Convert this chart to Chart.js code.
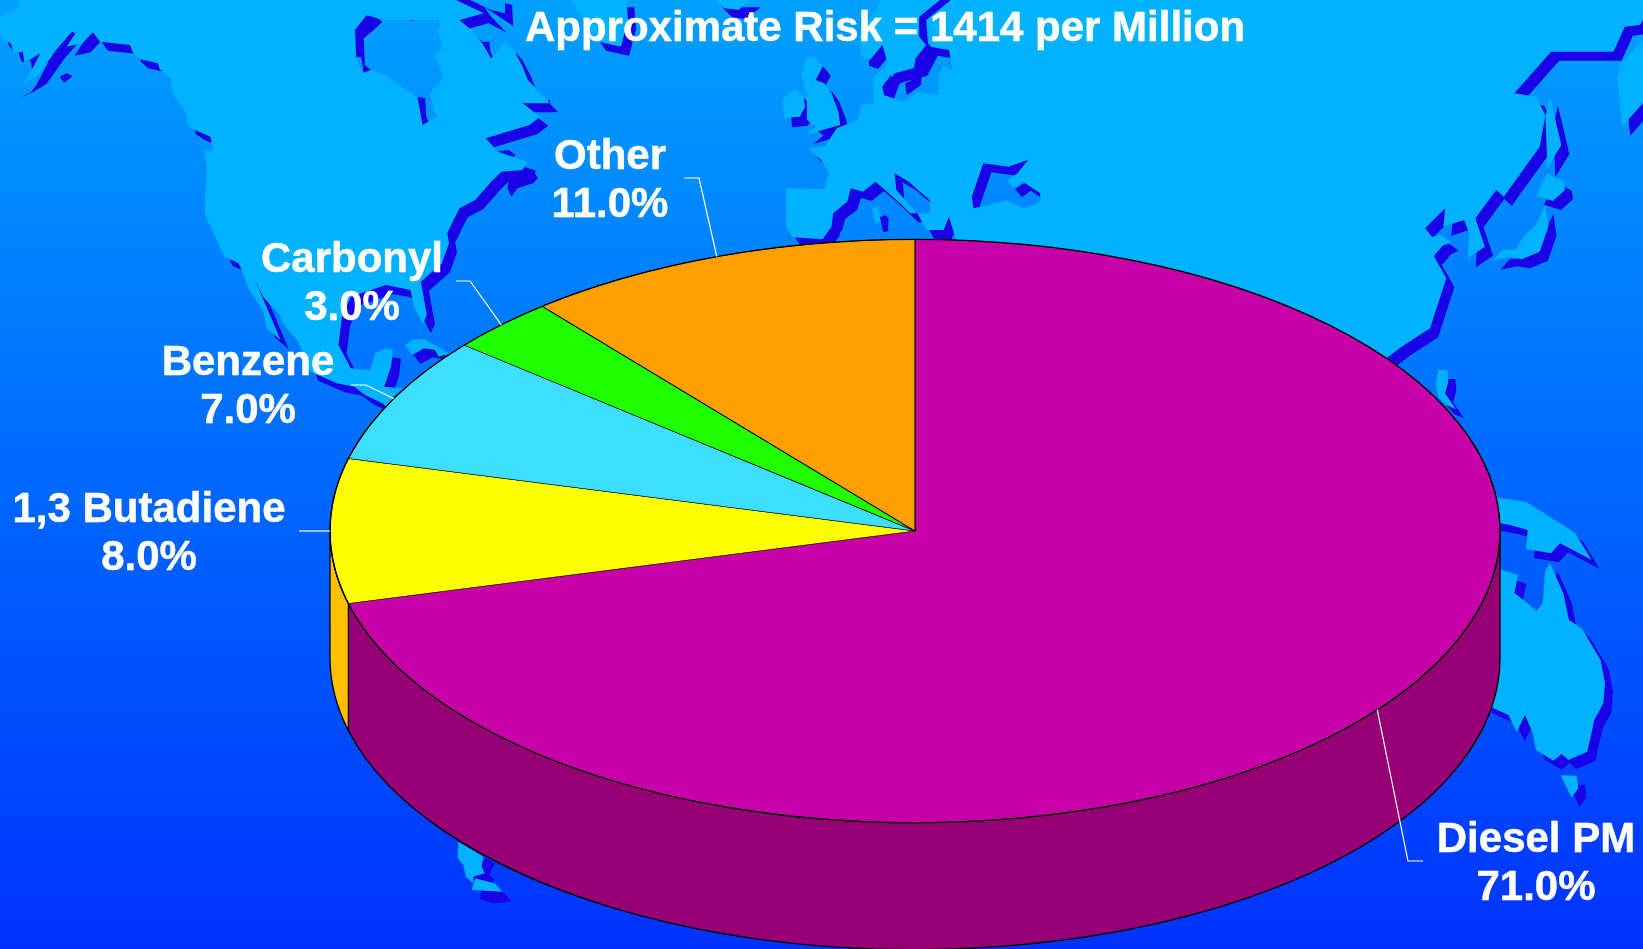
<!DOCTYPE html>
<html><head><meta charset="utf-8">
<style>html,body{margin:0;padding:0;background:#0033ff;overflow:hidden}canvas{display:block}</style>
<script src="https://cdn.jsdelivr.net/npm/chart.js@4"></script></head>
<body><canvas id="c" width="1643" height="949"></canvas>
<script>
const categories = ['Diesel PM', '1,3 Butadiene', 'Benzene', 'Carbonyl', 'Other'];
const values = [71, 8, 7, 3, 11];
const topColours = ['#c800a8', '#ffff00', '#3cdfff', '#1eff00', '#ff9f00'];
const wallColours = ['#960074', '#ffc000', '#28a0c0', '#14c000', '#c07800'];
const chartTitle = 'Approximate Risk = 1414 per Million';

// label placement: text centre x, first line centre y, elbow and end of the leader line
const labelBoxes = [
  {x:1536, y:840, elbow:[1408,861], end:[1423,861]},
  {x:149,  y:510, elbow:[330,531],  end:[299,531]},
  {x:248,  y:363, elbow:[366,385],  end:[351,385]},
  {x:352,  y:260, elbow:[470,281],  end:[456,281]},
  {x:610,  y:157, elbow:[699,178],  end:[684,178]}
];
const FONT = 'bold 42px "Liberation Sans", Arial, sans-serif';
const tilt = 0.4985, wallDepth = 127, pieRadius = 585;

// decorative world map, traced in crops of the picture [ox, oy, sx, sy]
const C1=[0,0,550/1568,1/3], C2=[0,200,550/1568,1/3], C3=[500,0,550/1568,1/3], C4=[1050,0,593/1568,1/3], C5=[1350,350,1/3,1/3], C6=[300,650,1/3,1/3];
const land = [
 [[C1,[55,-5,55,20,0,50,0,105,10,120,30,130,40,160,65,155,70,190,115,160,80,230,65,250,25,270,70,250,110,225,160,150,205,95,215,100,190,140,235,130,265,97,285,125,370,135,380,160,400,178,450,190,455,207,485,240,495,285,530,335,535,375,560,392,600,410,607,452,580,452,590,505,583,640,640,770,680,790]],
  [C2,[695,225,710,270,750,330,760,385,800,420,725,235,750,290,800,350,805,370,850,425,860,450,885,515,960,550,1010,560,1040,585,1090,610,1200,720,1300,560,1120,590,1150,565,1095,560,1115,500,1120,450,1100,445,1070,460,1055,510,1000,505,965,435,975,350,1000,290,1100,255,1170,270,1180,320,1205,372,1217,345,1200,245,1260,190,1280,130,1275,100]],
  [C1,[1310,625,1355,600,1405,540,1430,515,1490,510,1505,485,1420,455,1385,415,1510,375,1540,350,1490,310,1568,310,1505,240,1490,200,1465,150,1440,125,1400,175,1375,130,1350,95,1310,60,1380,40,1290,-5]]],
 [[C1,[1015,170,1012,90,1045,45,1090,60,1250,60,1250,100,1262,145,1240,165,1265,235,1225,280,1240,345,1250,345,1205,375,1190,290,1145,262,1100,225,1060,210,1035,218]]],
 [[C3,[1090,-5,1025,110,1030,170,1055,180,1090,135,1105,190,1095,205,1065,230,1065,310,1030,315,1020,360,960,385,925,440,880,445,915,480,938,520,925,568,815,565,815,680,835,712,920,718,945,680,950,640,990,605,1000,565,1035,575,1070,545,1098,570,1130,600,1170,640,1190,640,1130,570,1125,520,1165,545,1225,600,1225,640,1190,640,1215,690,1265,690,1280,650,1300,720,1350,760]],
  [C4,[700,1000,890,1075,930,1040,1005,985,1048,835,1015,768,1040,735,1060,725,1035,705,1010,710,992,685,1045,625,1040,680,1095,660,1108,700,1105,775,1150,740,1125,655,1180,570,1200,590,1295,440,1310,345,1285,290,1228,280,1325,155,1490,155,1520,80,1560,75,1568,60,1600,-5]]],
 [[C3,[1115,225,1095,285,1150,305,1190,275,1250,285,1250,225,1265,195,1290,215,1280,150,1225,140,1195,200,1125,220]]],
 [[C3,[1350,625,1345,590,1378,490,1450,500,1505,480,1475,520,1445,540,1465,565,1490,545,1540,580,1540,605,1495,625,1445,600,1370,620]]],
 [[C3,[200,-5,245,75,280,125,345,140,365,60,360,-5]]],
 [[C3,[610,-5,640,25,680,30,720,-5]]],
 [[C3,[860,220,875,170,900,175,920,200,900,240,925,250,945,280,965,335,970,375,870,405,900,380,875,360,875,275,900,245,870,280]]],
 [[C3,[805,300,840,265,865,290,870,320,855,350,810,355]]],
 [[C3,[1060,625,1078,618,1085,665,1070,670]]],
 [[C4,[1500,230,1510,190,1575,110,1575,300,1513,380]]],
 [[C4,[1310,350,1322,290,1352,435,1315,505]]],
 [[C4,[1315,520,1358,545,1362,570,1330,603,1285,587]]],
 [[C4,[1310,615,1318,680,1295,755,1248,778,1215,772,1170,782,1195,750,1232,748,1255,705,1285,675]]],
 [[C5,[265,60,292,60,295,95,285,130,318,178,288,165,265,140,257,105]]],
 [[C5,[400,437,528,455,675,548,725,630,630,580,603,610,528,597,533,540,480,525,400,510]]],
 [[C5,[400,640,505,675,493,728,560,782,578,760,585,665,600,640,640,730,657,810,695,835,752,930,765,1000,760,1060,733,1110,712,1205,655,1230,635,1212,610,1232,558,1200,548,1150,525,1095,500,1147,475,1095,430,1075,400,1060]]],
 [[C5,[632,1276,680,1277,685,1315,665,1343]]],
 [[C2,[1155,435,1180,418,1210,418,1280,460,1250,470,1240,450,1210,445,1175,465]]],
 [[C6,[475,575,550,620,545,650,555,670,520,680,520,700,497,680,490,645,473,625]]],
 [[C6,[525,685,585,700,607,725,515,720]]]
];
const darkBits = [
 [C1,[1285,0,1300,25,1340,40,1445,98,1400,50,1380,20,1430,55,1463,78,1460,15,1440,10,1440,40,1400,30,1340,0]],
 [C1,[1030,10,1090,40,1130,0,1080,0,1070,15]],
 [C1,[1145,40,1215,25,1232,50,1170,62]],
 [C1,[1012,90,1015,170,1030,172,1037,218,1058,210,1040,195,1037,115,1065,90,1090,65,1060,42,1040,50]],
 [C1,[1185,290,1212,295,1215,350,1227,375,1205,378,1190,330]],
 [C1,[1493,310,1535,288,1548,310,1568,300,1568,315,1545,300,1505,318]],
 [C1,[1415,455,1450,450,1470,465,1452,480,1462,490,1455,505,1435,480]],
 [C1,[1450,540,1510,535,1520,510,1533,535,1520,550,1475,565,1458,590,1447,565]],
 [C1,[170,230,190,220,207,228,183,248]],
 [C1,[1372,125,1395,125,1400,175,1390,183,1385,170,1355,175,1378,150]],
 [C2,[1175,470,1200,450,1240,450,1250,470,1210,462]],
 [C3,[1280,145,1375,128,1280,150]],
 [C3,[920,718,945,680,950,640,990,605,1000,565,1035,575,1070,545,1098,570,1060,602,1030,590,1018,630,985,655,975,690,945,728]],
 [C3,[1095,645,1108,655,1105,695,1090,680]],
 [C6,[555,625,585,640,570,665,545,648]],
 [C6,[520,675,555,665,585,690,565,695,550,680,520,705]],
 [C6,[550,730,610,728,635,755,580,760,543,748]]
];
// dark strips that lie over the land shapes
const darkOverlay = [
 [C3,[1285,0,1215,60,1220,130,1240,155,1205,195,1200,255,1160,285,1155,250,1175,240,1185,175,1215,135,1195,110,1195,50,1255,0]],
 [C3,[1115,225,1125,260,1115,290,1095,285,1090,260]]
];
const mapPath = rings => {
  const p = new Path2D();
  rings.forEach(ring => {
    let first = true;
    ring.forEach(([c, pts]) => {
      for (let i = 0; i < pts.length; i += 2) {
        const X = c[0] + pts[i] * c[2], Y = c[1] + pts[i + 1] * c[3];
        first ? p.moveTo(X, Y) : p.lineTo(X, Y);
        first = false;
      }
    });
    p.closePath();
  });
  return p;
};

const pie3d = {
  id: 'pie3d',
  beforeDraw(chart) {
    const {ctx, width, height} = chart;
    const g = ctx.createLinearGradient(0, 0, 0, height);
    g.addColorStop(0, 'rgb(0,160,255)');
    g.addColorStop(1, 'rgb(0,50,255)');
    ctx.save();
    ctx.fillStyle = g; ctx.fillRect(0, 0, width, height);
    // map: groups with holes use even-odd
    const groups = [[land[0], land[1]], [land[2], land[3], land[4]]].concat(land.slice(5).map(r => [r]));
    const paths = groups.map(gr => mapPath(gr));
    ctx.fillStyle = 'rgb(26,0,230)';
    ctx.save(); ctx.translate(8, 9);
    paths.forEach(p => ctx.fill(p, 'evenodd'));
    ctx.restore();
    // Hudson Bay only keeps its traced shadows
    ctx.fillStyle = g; ctx.fill(mapPath([land[1]]));
    ctx.fillStyle = 'rgb(26,0,230)';
    darkBits.forEach(b => ctx.fill(mapPath([[b]])));
    ctx.fillStyle = 'rgb(0,178,255)';
    paths.forEach(p => ctx.fill(p, 'evenodd'));
    ctx.fillStyle = 'rgb(26,0,230)';
    darkOverlay.forEach(b => ctx.fill(mapPath([[b]])));
    ctx.restore();
  },
  beforeDatasetsDraw(chart) {
    const {ctx} = chart;
    const arcs = chart.getDatasetMeta(0).data;
    const {x: cx, y: cy} = arcs[0];
    ctx.save();
    ctx.lineWidth = 1.3; ctx.strokeStyle = '#000';
    arcs.forEach((arc, i) => {
      const a = Math.max(arc.startAngle, 0), b = Math.min(arc.endAngle, Math.PI);
      if (b <= a) return;
      const ry = arc.outerRadius * tilt;
      ctx.beginPath();
      ctx.ellipse(cx, cy, arc.outerRadius, ry, 0, a, b, false);
      ctx.ellipse(cx, cy + wallDepth, arc.outerRadius, ry, 0, b, a, true);
      ctx.closePath();
      ctx.fillStyle = wallColours[i];
      ctx.fill(); ctx.stroke();
    });
    ctx.restore();
    ctx.save();
    ctx.translate(cx, cy); ctx.scale(1, tilt); ctx.translate(-cx, -cy);
  },
  afterDatasetsDraw(chart) {
    const {ctx} = chart;
    ctx.restore();
    const arcs = chart.getDatasetMeta(0).data;
    const {x: cx, y: cy, outerRadius: r} = arcs[0];
    ctx.save();
    ctx.strokeStyle = '#000'; ctx.lineWidth = 1.3;
    ctx.beginPath(); ctx.ellipse(cx, cy, r, r * tilt, 0, 0, Math.PI * 2); ctx.stroke();
    // leader lines anchored on each slice's mid angle
    ctx.strokeStyle = '#fff'; ctx.lineWidth = 1.2;
    arcs.forEach((arc, i) => {
      const m = (arc.startAngle + arc.endAngle) / 2, box = labelBoxes[i];
      ctx.beginPath();
      ctx.moveTo(cx + r * Math.cos(m), cy + r * tilt * Math.sin(m));
      ctx.lineTo(box.elbow[0], box.elbow[1]);
      ctx.lineTo(box.end[0], box.end[1]);
      ctx.stroke();
    });
    ctx.fillStyle = '#fff'; ctx.font = FONT; ctx.textAlign = 'center'; ctx.textBaseline = 'middle';
    ctx.lineWidth = 0.5; ctx.lineJoin = 'round';
    const put = (t, x, y) => { ctx.strokeText(t, x, y); ctx.fillText(t, x, y); };
    put(chartTitle, 885, 29);
    categories.forEach((c, i) => {
      const box = labelBoxes[i];
      put(c, box.x, box.y);
      put(values[i].toFixed(1) + '%', box.x, box.y + 48);
    });
    ctx.restore();
  }
};

new Chart(document.getElementById('c'), {
  type: 'pie',
  data: {labels: categories, datasets: [{data: values, backgroundColor: topColours, borderColor: '#000', borderWidth: 1.2, clip: false, hoverOffset: 0}]},
  options: {
    responsive: false, animation: false, radius: pieRadius,
    layout: {padding: {left: 187, top: 113, right: 0, bottom: 0}},
    plugins: {legend: {display: false}, tooltip: {enabled: false}}
  },
  plugins: [pie3d]
});
</script></body></html>
